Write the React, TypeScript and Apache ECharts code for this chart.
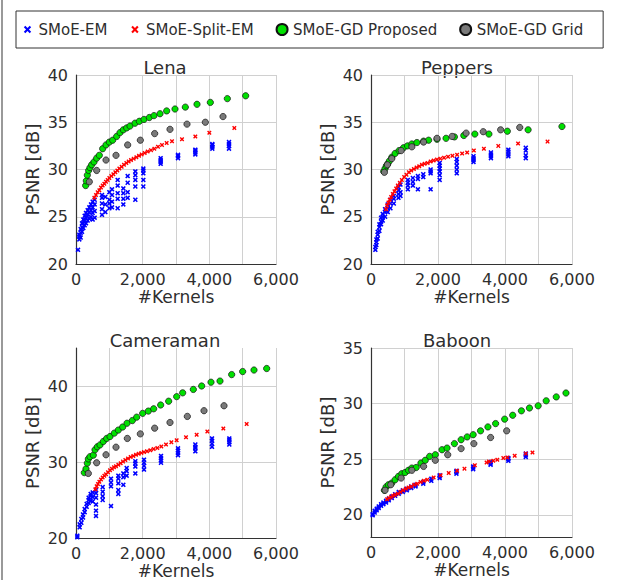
import React, { useEffect, useRef } from "react";
import * as echarts from "echarts";

// ---------------- DATA ----------------
// Lena
const lenaEMKernels = [60, 100, 140, 180, 220, 260, 300, 350, 400, 450, 500, 560, 780, 880, 1000, 1080, 1250, 1420, 1550, 1780, 2020, 2540, 3060, 3580, 4090, 4590];
const lenaEMPsnr = [
  [21.5], [22.6, 22.9, 23.1], [22.8, 23.3, 23.7], [23.4, 23.9, 24.3], [23.8, 24.3, 24.7],
  [24.1, 24.6, 25.1], [24.3, 24.9, 25.4], [24.6, 25.2, 25.7], [24.8, 25.5, 26.0], [25.0, 25.7, 26.3],
  [24.7, 25.4, 26.0, 26.6], [24.9, 25.6, 26.3, 26.8], [25.2, 25.8, 26.4, 27.0, 27.3], [25.5, 26.3, 27.1],
  [25.9, 26.4, 26.8, 27.6], [26.0, 26.6, 27.3, 27.9], [25.9, 26.9, 27.5, 28.3, 28.9], [26.3, 26.9, 27.5, 28.0],
  [27.0, 27.6, 28.6, 29.3], [26.8, 28.2, 28.9, 29.4, 29.8], [28.2, 28.9, 29.6, 29.9, 30.1],
  [30.6, 30.8, 31.0, 31.2], [31.2, 31.4, 31.55], [31.6, 31.8, 32.0, 32.1], [32.2, 32.4, 32.6, 32.7], [32.2, 32.5, 32.7, 32.9],
];
const lenaSplitKernels = [550, 600, 650, 700, 750, 800, 850, 900, 950, 1000, 1060, 1120, 1180, 1240, 1300, 1370, 1440, 1510, 1580, 1650, 1730, 1810, 1890, 1970, 2060, 2150, 2250, 2350, 2460, 2580, 2720, 2880, 3180, 3580, 4000, 4750];
const lenaSplitPsnr = [27.0, 27.3, 27.6, 27.8, 28.1, 28.3, 28.5, 28.7, 28.9, 29.1, 29.3, 29.5, 29.7, 29.9, 30.1, 30.3, 30.5, 30.7, 30.85, 31.0, 31.15, 31.3, 31.45, 31.6, 31.75, 31.9, 32.05, 32.2, 32.4, 32.6, 32.8, 33.0, 33.2, 33.5, 33.9, 34.4];
const lenaGDKernels = [290, 310, 340, 380, 420, 470, 540, 620, 700, 800, 900, 1000, 1100, 1220, 1320, 1420, 1520, 1620, 1770, 1900, 2040, 2200, 2340, 2520, 2720, 2970, 3280, 3630, 4030, 4540, 5090];
const lenaGDPsnr = [28.3, 28.8, 29.4, 29.9, 30.2, 30.5, 30.8, 31.2, 31.5, 32.2, 32.6, 32.9, 33.1, 33.5, 33.9, 34.2, 34.4, 34.6, 34.9, 35.1, 35.3, 35.5, 35.7, 35.9, 36.2, 36.4, 36.6, 36.9, 37.1, 37.5, 37.8];
const lenaGridKernels = [400, 620, 900, 1200, 1550, 1930, 2360, 2820, 3330, 3880, 4410];
const lenaGridPsnr = [28.7, 29.9, 31.0, 31.5, 32.6, 33.1, 33.8, 34.25, 34.8, 35.0, 35.6];

// Peppers
const peppersEMKernels = [130, 160, 200, 250, 300, 350, 420, 500, 580, 680, 820, 880, 1100, 1250, 1400, 1560, 1780, 2050, 2560, 3060, 3580, 4100, 4620];
const peppersEMPsnr = [
  [21.5, 21.8], [22.0, 22.3, 22.6], [22.7, 23.1, 23.4], [23.5, 23.9, 24.2], [24.2, 24.5, 24.9],
  [24.6, 25.0, 25.3], [25.0, 25.5, 25.8], [25.5, 25.9, 26.3], [25.9, 26.4, 26.8], [26.4, 26.9, 27.2],
  [27.0, 27.4, 27.8, 28.1], [27.2, 27.6, 28.4], [27.9, 28.3, 28.6, 28.9], [28.3, 28.7, 29.1], [27.9, 29.0, 29.3],
  [29.2, 29.5], [27.9, 29.6, 29.8, 30.0], [28.9, 29.4, 29.8, 30.1, 30.4, 30.7], [29.6, 30.0, 30.4, 30.8, 31.1],
  [30.8, 31.0, 31.2, 31.4], [31.2, 31.4, 31.6, 31.8], [31.4, 31.6, 31.9, 32.1], [31.2, 31.5, 32.0, 32.3],
];
const peppersSplitKernels = [450, 480, 520, 560, 600, 650, 700, 750, 800, 860, 920, 990, 1060, 1130, 1200, 1280, 1360, 1440, 1520, 1600, 1690, 1780, 1870, 1970, 2070, 2180, 2300, 2430, 2570, 2720, 2870, 3070, 3370, 3800, 4390, 5270];
const peppersSplitPsnr = [25.8, 26.2, 26.5, 26.8, 27.1, 27.4, 27.7, 28.0, 28.3, 28.6, 28.9, 29.2, 29.45, 29.7, 29.9, 30.05, 30.2, 30.35, 30.5, 30.6, 30.7, 30.85, 30.95, 31.05, 31.15, 31.25, 31.35, 31.45, 31.55, 31.7, 31.8, 32.0, 32.2, 32.5, 32.75, 32.95];
const peppersGDKernels = [380, 420, 460, 500, 550, 620, 720, 840, 970, 1090, 1220, 1370, 1570, 1720, 1970, 2240, 2490, 2770, 3100, 3520, 4070, 4690, 5700];
const peppersGDPsnr = [29.8, 30.1, 30.4, 30.6, 30.9, 31.3, 31.7, 32.0, 32.3, 32.5, 32.7, 32.85, 33.0, 33.1, 33.2, 33.3, 33.45, 33.6, 33.75, 33.75, 34.05, 34.2, 34.55];
const peppersGridKernels = [400, 490, 620, 900, 1220, 1570, 1970, 2420, 2840, 3350, 3870, 4440];
const peppersGridPsnr = [29.7, 30.5, 31.15, 32.0, 32.4, 32.9, 33.3, 33.5, 33.85, 34.0, 34.2, 34.45];

// Cameraman
const cameramanEMKernels = [40, 110, 160, 210, 260, 320, 380, 440, 500, 600, 800, 1050, 1270, 1420, 1520, 1780, 2040, 2550, 3060, 3580, 4080, 4600];
const cameramanEMPsnr = [
  [20.1, 20.3], [21.4, 21.8], [22.0, 22.5], [22.7, 23.1], [23.4, 23.8], [24.1, 24.5], [24.6, 25.0, 25.3],
  [24.9, 25.5, 25.8], [24.8, 25.4, 26.0], [22.9, 23.6, 24.4, 25.3, 25.9, 26.3], [25.0, 25.5, 26.1, 26.7],
  [24.2, 26.8, 27.3, 27.8], [25.8, 26.3, 27.2, 27.8, 28.2], [27.0, 28.0, 28.5], [28.2, 28.8, 29.2],
  [28.5, 29.4, 29.8, 30.1], [29.0, 29.5, 29.9, 30.3], [29.9, 30.2, 30.5, 30.8], [30.9, 31.2, 31.5, 31.8],
  [31.4, 31.8, 32.0, 32.3], [32.0, 32.4, 32.8, 33.1], [32.3, 32.6, 32.9, 33.1],
];
const cameramanSplitKernels = [580, 620, 660, 700, 750, 800, 850, 900, 960, 1020, 1080, 1140, 1200, 1270, 1340, 1410, 1480, 1560, 1640, 1720, 1800, 1880, 1960, 2040, 2130, 2230, 2330, 2440, 2560, 2700, 2860, 3020, 3300, 3620, 3940, 4420, 5120];
const cameramanSplitPsnr = [26.4, 26.8, 27.1, 27.4, 27.7, 27.95, 28.2, 28.4, 28.65, 28.9, 29.1, 29.3, 29.45, 29.65, 29.85, 30.05, 30.25, 30.45, 30.65, 30.8, 30.95, 31.1, 31.2, 31.3, 31.4, 31.55, 31.7, 31.85, 32.05, 32.3, 32.6, 32.85, 33.25, 33.6, 34.0, 34.4, 35.0];
const cameramanGDKernels = [250, 300, 340, 370, 420, 520, 570, 640, 720, 820, 920, 1020, 1150, 1270, 1400, 1530, 1690, 1820, 2000, 2170, 2330, 2540, 2780, 3020, 3200, 3520, 3770, 4050, 4320, 4670, 5000, 5340, 5720];
const cameramanGDPsnr = [28.6, 29.1, 29.85, 30.4, 30.7, 30.9, 31.6, 32.0, 32.25, 32.7, 33.1, 33.35, 33.8, 34.2, 34.6, 35.1, 35.45, 35.9, 36.4, 36.7, 37.0, 37.5, 38.0, 38.6, 39.1, 39.55, 40.0, 40.5, 40.65, 41.5, 41.9, 42.1, 42.3];
const cameramanGridKernels = [370, 620, 900, 1200, 1540, 1930, 2360, 2820, 3340, 3840, 4440];
const cameramanGridPsnr = [28.5, 29.9, 30.95, 31.95, 33.1, 33.7, 34.45, 35.2, 36.0, 36.75, 37.4];

// Baboon
const baboonEMKernels = [50, 110, 170, 230, 300, 370, 450, 530, 620, 720, 830, 950, 1070, 1200, 1330, 1560, 1800, 2050, 2550, 3050, 3570, 4100, 4620];
const baboonEMPsnr = [
  [19.95, 20.05], [20.2, 20.35], [20.4, 20.55], [20.6, 20.75], [20.8, 20.95], [20.95, 21.1], [21.1, 21.25],
  [21.3, 21.45], [21.5, 21.65], [21.7, 21.85], [21.9, 22.05], [22.05, 22.2], [22.2, 22.35], [22.4, 22.55],
  [22.55, 22.7], [22.8, 22.95], [23.05, 23.25], [23.3, 23.45, 23.55], [23.7, 23.85, 23.95], [24.1, 24.25, 24.35],
  [24.5, 24.6, 24.75], [24.85, 25.0, 25.1], [25.2, 25.35, 25.5],
];
const baboonSplitKernels = [480, 540, 600, 660, 720, 800, 880, 960, 1040, 1120, 1200, 1290, 1380, 1480, 1580, 1680, 1870, 2080, 2320, 2570, 2790, 3100, 3450, 3520, 3650, 3770, 3950, 4070, 4290, 4620, 4820];
const baboonSplitPsnr = [21.4, 21.5, 21.6, 21.7, 21.8, 21.9, 22.05, 22.2, 22.35, 22.45, 22.55, 22.7, 22.8, 22.95, 23.05, 23.15, 23.35, 23.55, 23.75, 23.95, 24.15, 24.45, 24.7, 24.8, 24.85, 24.95, 25.1, 25.15, 25.3, 25.5, 25.6];
const baboonGDKernels = [400, 450, 520, 620, 720, 820, 920, 1020, 1120, 1220, 1350, 1490, 1620, 1750, 1920, 2120, 2270, 2490, 2690, 2870, 3050, 3270, 3490, 3720, 3990, 4230, 4490, 4730, 4990, 5230, 5530, 5820];
const baboonGDPsnr = [22.2, 22.5, 22.7, 22.85, 23.15, 23.45, 23.7, 23.8, 24.0, 24.2, 24.25, 24.65, 24.9, 25.25, 25.4, 25.85, 26.0, 26.4, 26.75, 27.0, 27.2, 27.55, 27.9, 28.2, 28.6, 28.95, 29.35, 29.6, 29.8, 30.25, 30.6, 30.95];
const baboonGridKernels = [420, 590, 900, 1220, 1570, 1920, 2290, 2690, 3070, 3570, 4050];
const baboonGridPsnr = [22.2, 22.7, 23.3, 24.0, 24.35, 24.9, 25.4, 25.95, 26.4, 26.95, 27.55];

// Axis / labels
const seriesNames = ["SMoE-EM", "SMoE-Split-EM", "SMoE-GD Proposed", "SMoE-GD Grid"];
const panelTitles = ["Lena", "Peppers", "Cameraman", "Baboon"];
const xTickLabels = [0, 2000, 4000, 6000];
const yTickLabels = [
  [20, 25, 30, 35, 40],
  [20, 25, 30, 35, 40],
  [20, 30, 40],
  [20, 25, 30, 35],
];
const yRanges = [
  [20, 40],
  [20, 40],
  [20, 45],
  [18, 35],
];

// ---------------- STYLE ----------------
const FONT = '"DejaVu Sans", sans-serif';
const TXT = "#2e2e2e";
const CROSS = "path://M0,2.2L2.2,0L5,2.8L7.8,0L10,2.2L7.2,5L10,7.8L7.8,10L5,7.2L2.2,10L0,7.8L2.8,5Z";
const CROSS_LEGEND =
  "path://M-2.5,-2.5L-2.5,-2.5M12.5,12.5L12.5,12.5M0,2L2,0L5,3L8,0L10,2L7,5L10,8L8,10L5,7L2,10L0,8L3,5Z";
const COLORS = ["#0000ff", "#ff0000", "#00e000", "#7a7a7a"];

const grids = [
  { left: 76, top: 75, width: 200, height: 189 },
  { left: 371, top: 75, width: 201, height: 189 },
  { left: 76, top: 348, width: 200, height: 190 },
  { left: 371, top: 348, width: 201, height: 189 },
];
const titlePos = [
  [165, 67],
  [457, 67],
  [165, 340],
  [457, 340],
];

function columns(ks: number[], vs: number[][]) {
  const out: number[][] = [];
  ks.forEach((k, i) => vs[i].forEach((v) => out.push([k, v])));
  return out;
}
function pairs(ks: number[], vs: number[]) {
  return ks.map((k, i) => [k, vs[i]]);
}

const panels = [
  [columns(lenaEMKernels, lenaEMPsnr), pairs(lenaSplitKernels, lenaSplitPsnr), pairs(lenaGDKernels, lenaGDPsnr), pairs(lenaGridKernels, lenaGridPsnr)],
  [columns(peppersEMKernels, peppersEMPsnr), pairs(peppersSplitKernels, peppersSplitPsnr), pairs(peppersGDKernels, peppersGDPsnr), pairs(peppersGridKernels, peppersGridPsnr)],
  [columns(cameramanEMKernels, cameramanEMPsnr), pairs(cameramanSplitKernels, cameramanSplitPsnr), pairs(cameramanGDKernels, cameramanGDPsnr), pairs(cameramanGridKernels, cameramanGridPsnr)],
  [columns(baboonEMKernels, baboonEMPsnr), pairs(baboonSplitKernels, baboonSplitPsnr), pairs(baboonGDKernels, baboonGDPsnr), pairs(baboonGridKernels, baboonGridPsnr)],
];

function buildOption() {
  const xAxis = grids.map((_, i) => ({
    type: "value",
    gridIndex: i,
    min: 0,
    max: 6000,
    interval: 1000,
    name: "#Kernels",
    nameLocation: "middle",
    nameGap: 24,
    nameTextStyle: { fontFamily: FONT, fontSize: 17, color: TXT },
    axisLine: { show: true, onZero: false, lineStyle: { color: "#333", width: 1.2 } },
    axisTick: { show: false },
    axisLabel: {
      fontFamily: FONT,
      fontSize: 16,
      color: TXT,
      margin: 7,
      customValues: xTickLabels,
      formatter: (v: number) => v.toLocaleString("en-US"),
    },
    splitLine: { show: true, lineStyle: { color: "#d0d0d0", width: 1 } },
  }));
  const yAxis = grids.map((_, i) => ({
    type: "value",
    gridIndex: i,
    min: yRanges[i][0],
    max: yRanges[i][1],
    interval: 5,
    name: "PSNR [dB]",
    nameLocation: "middle",
    nameGap: 35,
    nameRotate: 90,
    nameTextStyle: { fontFamily: FONT, fontSize: 18, color: TXT },
    axisLine: { show: true, onZero: false, lineStyle: { color: "#333", width: 1.2 } },
    axisTick: { show: false, customValues: yTickLabels[i] },
    axisLabel: { fontFamily: FONT, fontSize: 16, color: TXT, margin: 8, customValues: yTickLabels[i] },
    splitLine: { show: true, lineStyle: { color: "#d0d0d0", width: 1 } },
  }));
  const series: any[] = [];
  panels.forEach((p, gi) => {
    p.forEach((data, si) => {
      const isCross = si < 2;
      series.push({
        type: "scatter",
        name: seriesNames[si],
        xAxisIndex: gi,
        yAxisIndex: gi,
        data,
        symbol: isCross ? CROSS : "circle",
        symbolSize: si === 0 ? 5 : isCross ? 4.5 : 6.3,
        itemStyle: isCross
          ? { color: COLORS[si], borderWidth: 0, opacity: 1 }
          : { color: COLORS[si], borderColor: "#111", borderWidth: 0.7, opacity: 1 },
        emphasis: { disabled: true },
      });
    });
  });
  const graphic: any[] = [
    { type: "line", shape: { x1: 2, y1: 0, x2: 2, y2: 580 }, style: { stroke: "#555", lineWidth: 1.2 } },
    ...panelTitles.map((t, i) => ({
      type: "text",
      x: titlePos[i][0],
      y: titlePos[i][1],
      style: { text: t, fontFamily: FONT, fontSize: 18, fill: TXT, textAlign: "center", textVerticalAlign: "middle" },
    })),
  ];
  return {
    animation: false,
    backgroundColor: "#ffffff",
    grid: grids,
    xAxis,
    yAxis,
    series,
    graphic,
    legend: {
      top: 11,
      left: 16,
      padding: [11, 20, 11, 6],
      borderColor: "#333",
      borderWidth: 1,
      itemGap: 22,
      itemWidth: 12,
      itemHeight: 11,
      selectedMode: false,
      textStyle: { fontFamily: FONT, fontSize: 15, color: TXT },
      data: [
        { name: seriesNames[0], icon: CROSS_LEGEND },
        { name: seriesNames[1], icon: CROSS_LEGEND },
        { name: seriesNames[2], icon: "circle" },
        { name: seriesNames[3], icon: "circle" },
      ],
    },
  };
}

export default function App() {
  const ref = useRef<HTMLDivElement>(null);
  useEffect(() => {
    if (!ref.current) return;
    const chart = echarts.init(ref.current, undefined, { renderer: "svg" });
    chart.setOption(buildOption() as any);
    return () => chart.dispose();
  }, []);
  return (
    <div
      ref={ref}
      style={{ position: "absolute", left: 0, top: 0, width: 618, height: 580, background: "#fff" }}
    />
  );
}
